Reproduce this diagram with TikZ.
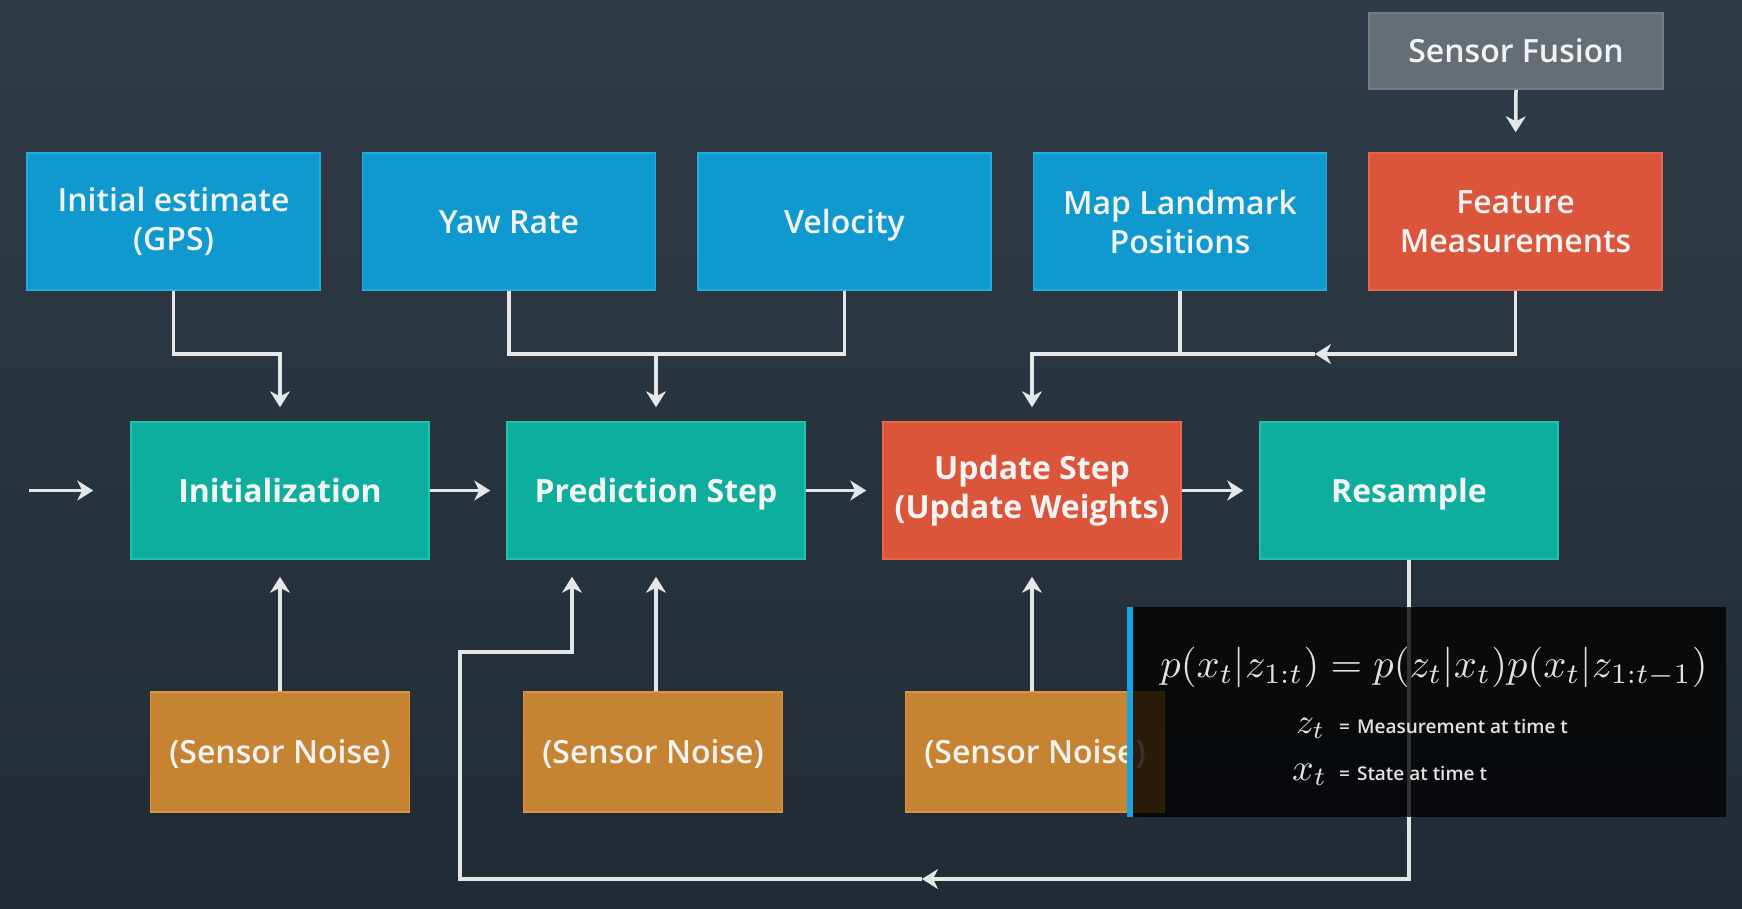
\documentclass[tikz,border=0pt]{standalone}
\usepackage[no-math]{fontspec}
\usepackage{graphicx}
\setmainfont{Open Sans}
\IfFontExistsTF{Open Sans SemiBold}{\newfontfamily\sbfont{Open Sans SemiBold}}{%
  \IfFontExistsTF{Open Sans Semibold}{\newfontfamily\sbfont{Open Sans Semibold}}{\newfontfamily\sbfont[FakeBold=0.5]{Open Sans}}}
\usetikzlibrary{arrows.meta}
\definecolor{bgtop}{HTML}{2F3B47}
\definecolor{bgbot}{HTML}{222B35}
\definecolor{cblue}{HTML}{0F99CE}
\definecolor{cbluel}{HTML}{22ACE0}
\definecolor{cteal}{HTML}{0DAE9E}
\definecolor{ctealL}{HTML}{1FC2B0}
\definecolor{cred}{HTML}{DB553B}
\definecolor{credl}{HTML}{EB654A}
\definecolor{corange}{HTML}{C68331}
\definecolor{corangel}{HTML}{D8943C}
\definecolor{cgray}{HTML}{656D75}
\definecolor{cgrayl}{HTML}{737B83}
\definecolor{cline}{HTML}{E4E6E8}
\definecolor{ctext}{HTML}{F3F3F3}
\definecolor{cstripe}{HTML}{1AA3DC}
\definecolor{cformula}{HTML}{E2E2E2}
\begin{document}
\begin{tikzpicture}[x=1pt,y=-1pt,
  basebox/.style={line width=1.5pt, inner sep=0pt, align=center, text=ctext},
  one/.style={text height=23pt, text depth=0pt},
  topbox/.style={basebox, minimum width=293pt, minimum height=137pt, font=\sbfont\fontsize{32}{39}\selectfont},
  bluebox/.style={topbox, fill=cblue, draw=cbluel},
  featbox/.style={topbox, fill=cred, draw=credl},
  fusionbox/.style={basebox, one, fill=cgray, draw=cgrayl, minimum width=294pt, minimum height=76pt, font=\sbfont\fontsize{32}{39}\selectfont},
  midbox/.style={basebox, minimum width=298pt, minimum height=137pt, font=\bfseries\fontsize{32}{39}\selectfont},
  tealbox/.style={midbox, fill=cteal, draw=ctealL},
  redbox/.style={midbox, fill=cred, draw=credl},
  noisebox/.style={basebox, one, fill=corange, draw=corangel, minimum width=259pt, minimum height=120pt, font=\sbfont\fontsize{32}{39}\selectfont},
  conn/.style={line width=3.5pt, draw=cline},
  arr/.style={conn, -{Stealth[length=16pt,width=20pt,inset=5pt]}},
  legend/.style={text=cformula, inner sep=0pt, anchor=base west},
]
\fill[top color=bgtop, bottom color=bgbot] (0,0) rectangle (1742,908);
\useasboundingbox (0,0) rectangle (1742,908);

% top row
\node[fusionbox] (fusion) at (1516,51) {Sensor Fusion};
\node[bluebox] (gps) at (173.5,221.5) {Initial estimate\\(GPS)};
\node[bluebox, one] (yaw) at (509,221.5) {Yaw Rate};
\node[bluebox, one] (vel) at (844.5,221.5) {Velocity};
\node[bluebox] (map) at (1180,221.5) {Map Landmark\\Positions};
\node[featbox] (feat) at (1515.5,221.5) {Feature\\Measurements};

% middle row
\node[tealbox, one] (init) at (280,490.5) {Initialization};
\node[tealbox, one] (pred) at (656,490.5) {Prediction Step};
\node[redbox] (upd) at (1032,490.5) {Update Step\\(Update Weights)};
\node[tealbox, one] (res) at (1409,490.5) {Resample};

% noise row
\node[noisebox] (n1) at (280,752) {(Sensor Noise)};
\node[noisebox] (n2) at (653,752) {(Sensor Noise)};
\node[noisebox] (n3) at (1035,752) {(Sensor Noise)};

% helper coordinates
\coordinate (yl) at (0,354);
\coordinate (start) at (29,490.5);
\coordinate (m1) at (1315,354);
\coordinate (fb1) at (922,879);
\coordinate (fb2) at (460,652);
\coordinate (fb3) at (572,0);

% connectors
\draw[arr, shorten >=37pt] (start) -- (init.west);
\draw[arr, shorten >=16pt] (init.east) -- (pred.west);
\draw[arr, shorten >=16pt] (pred.east) -- (upd.west);
\draw[arr, shorten >=16pt] (upd.east) -- (res.west);

\draw[arr, shorten >=14pt] (gps.south) |- (init.north |- yl) -- (init.north);
\draw[conn] (yaw.south) |- (vel.south |- yl) -- (vel.south);
\draw[arr, shorten >=14pt] (pred.north |- yl) -- (pred.north);
\draw[arr, shorten >=20pt] (fusion.south) -- (feat.north);
\draw[arr] (feat.south) |- (m1);
\draw[arr, shorten >=14pt] (m1) -| (upd.north);
\draw[conn] (map.south) -- (map.south |- yl);

\draw[arr, shorten >=17pt] (n1.north -| init.south) -- (init.south);
\draw[arr, shorten >=17pt] (n2.north -| pred.south) -- (pred.south);
\draw[arr, shorten >=17pt] (n3.north -| upd.south) -- (upd.south);

\draw[arr] (res.south) |- (fb1);
\draw[arr, shorten >=17pt] (fb1) -| (fb2) -| (pred.south -| fb3);

% formula overlay
\fill[black, opacity=0.78] (1129,607) rectangle (1726,817);
\fill[cstripe] (1127,607) rectangle (1133,817);
\node[text=cformula, inner sep=0pt] (eq) at (1434,667)
  {\resizebox{547pt}{!}{$p(x_t|z_{1:t}) = p(z_t|x_t)p(x_t|z_{1:t-1})$}};
\node[legend] (zt) at (1296,733) {\resizebox{29pt}{!}{$z_t$}};
\node[legend, font=\sbfont\fontsize{19}{22}\selectfont] (ztx) at (1339,733) {=\hspace{7pt}Measurement at time t};
\node[legend] (xt) at (1292,780) {\resizebox{35pt}{!}{$x_t$}};
\node[legend, font=\sbfont\fontsize{19}{22}\selectfont] (xtx) at (1339,780) {=\hspace{7pt}State at time t};
\end{tikzpicture}
\end{document}
